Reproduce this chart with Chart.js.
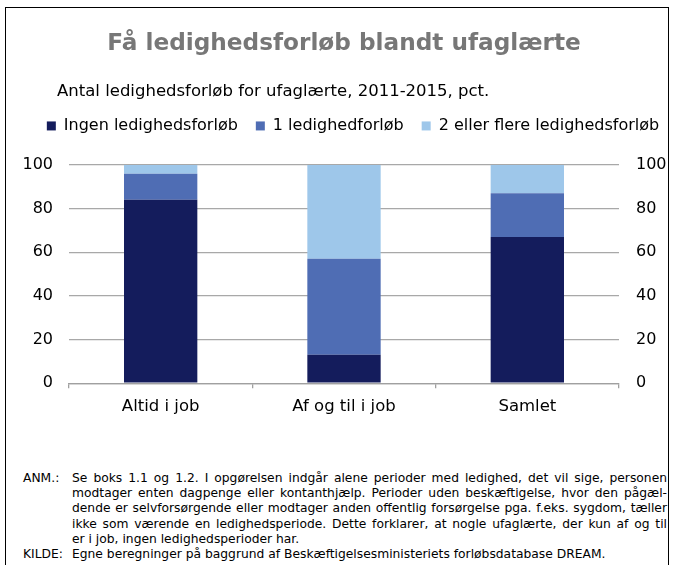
<!DOCTYPE html>
<html>
<head>
<meta charset="utf-8">
<script src="https://cdn.jsdelivr.net/npm/chart.js@4.4.0/dist/chart.umd.min.js"></script>
<style>
  html, body { margin: 0; padding: 0; background: #fff; }
  body { width: 674px; height: 565px; position: relative; overflow: hidden; font-family: "DejaVu Sans", Verdana, sans-serif; }
  #frame { position: absolute; left: 5px; top: 7px; width: 664px; height: 600px; border: 1px solid #000; box-sizing: border-box; }
  #wrap { position: absolute; left: 0; top: 0; width: 674px; height: 440px; }
  .notes { position: absolute; left: 23px; top: 471px; font-family: "DejaVu Sans", Verdana, sans-serif; font-size: 12.3px; line-height: 15.2px; color: #000; white-space: nowrap; }
  .notes .row { position: relative; padding-left: 49px; }
  .notes .lbl { position: absolute; left: 0; top: 0; }
  .notes .ln { width: 595px; text-align: justify; text-align-last: justify; }
  .notes .ln.last { text-align-last: left; }
</style>
</head>
<body>
<div id="frame"></div>
<div id="wrap"><canvas id="chart"></canvas></div>
<div class="notes">
  <div class="row"><span class="lbl">ANM.:</span>
    <div class="ln">Se boks 1.1 og 1.2. I opgørelsen indgår alene perioder med ledighed, det vil sige, personen</div>
    <div class="ln">modtager enten dagpenge eller kontanthjælp. Perioder uden beskæftigelse, hvor den pågæl-</div>
    <div class="ln">dende er selvforsørgende eller modtager anden offentlig forsørgelse pga. f.eks. sygdom, tæller</div>
    <div class="ln">ikke som værende en ledighedsperiode. Dette forklarer, at nogle ufaglærte, der kun af og til</div>
    <div class="ln last">er i job, ingen ledighedsperioder har.</div>
  </div>
  <div class="row"><span class="lbl">KILDE:</span><div class="ln last">Egne beregninger på baggrund af Beskæftigelsesministeriets forløbsdatabase DREAM.</div></div>
</div>
<script>
const categories = ['Altid i job', 'Af og til i job', 'Samlet'];
const seriesNames = ['Ingen ledighedsforløb', '1 ledighedforløb', '2 eller flere ledighedsforløb'];
const ingen = [84, 13, 67];
const en = [12, 44, 20];
const flere = [4, 43, 13];
const yTicks = [0, 20, 40, 60, 80, 100];

const titleText = 'Få ledighedsforløb blandt ufaglærte';
const subtitleText = 'Antal ledighedsforløb for ufaglærte, 2011-2015, pct.';

const colors = ['#141c5c', '#4f6db4', '#9ec7ea'];
const font = { family: '"DejaVu Sans", Verdana, sans-serif', size: 16 };

// legend gets extra room below it, title/subtitle/legend are nudged sideways
const layoutTweaks = {
  id: 'layoutTweaks',
  beforeInit(chart) {
    const fit = chart.legend.fit;
    chart.legend.fit = function () { fit.call(this); this.height += 21; };
  },
  afterLayout(chart) {
    chart.boxes.forEach(b => {
      if (b === chart.legend) { b.left += 16; b.right += 16; }
      else if (b.options && b.options.text === subtitleText) { b.left = 57; }
      else if (b.options && b.options.text === titleText) { b.left += 7; b.right += 7; }
    });
  }
};

const ctx = document.getElementById('chart');
new Chart(ctx, {
  type: 'bar',
  data: {
    labels: categories,
    datasets: [ingen, en, flere].map((d, i) => ({
      label: seriesNames[i],
      data: d,
      backgroundColor: colors[i],
      borderWidth: 0,
      barPercentage: 0.4,
      categoryPercentage: 1
    }))
  },
  plugins: [layoutTweaks],
  options: {
    responsive: true,
    maintainAspectRatio: false,
    animation: false,
    layout: { padding: { top: 0, left: 0, right: 0, bottom: 14 } },
    plugins: {
      tooltip: { enabled: false },
      title: {
        display: true,
        text: titleText,
        color: '#777777',
        font: { family: font.family, size: 23.2, weight: 'bold' },
        padding: { top: 30, bottom: 25.6 }
      },
      subtitle: {
        display: true,
        text: subtitleText,
        color: '#000',
        align: 'start',
        font: { family: font.family, size: 16.5, lineHeight: 1 },
        padding: { top: 0, bottom: 0 }
      },
      legend: {
        display: true,
        labels: {
          color: '#000',
          font: font,
          boxWidth: 9,
          boxHeight: 9,
          padding: 18
        }
      }
    },
    scales: {
      x: {
        stacked: true,
        grid: { offset: true, drawOnChartArea: false, color: '#a0a0a0', lineWidth: 1.3, tickLength: 5 },
        border: { color: '#a0a0a0', width: 1.3 },
        ticks: { color: '#000', font: { family: font.family, size: 16.5 }, padding: 9 }
      },
      y: {
        stacked: true,
        position: 'left',
        min: 0, max: 100,
        afterBuildTicks: s => { s.ticks = yTicks.map(v => ({ value: v })); },
        afterFit: s => { s.width = 69; },
        grid: { color: '#a8a8a8', lineWidth: 1.3, drawTicks: false },
        border: { display: false },
        ticks: { color: '#000', font: font, padding: 16 }
      },
      y2: {
        position: 'right',
        min: 0, max: 100,
        afterBuildTicks: s => { s.ticks = yTicks.map(v => ({ value: v })); },
        afterFit: s => { s.width = 55; },
        grid: { drawOnChartArea: false, drawTicks: false },
        border: { display: false },
        ticks: { color: '#000', font: font, padding: 17 }
      }
    }
  }
});
</script>
</body>
</html>
